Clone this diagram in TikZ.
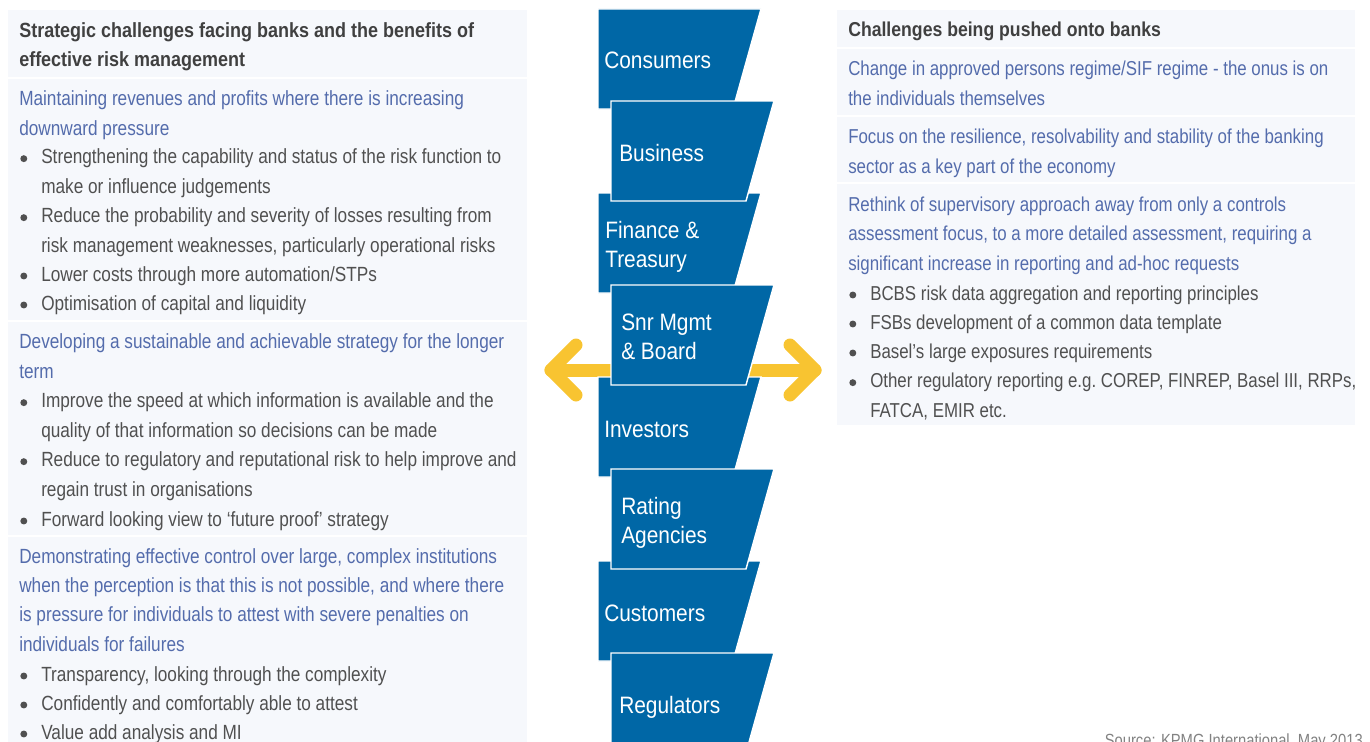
\documentclass[tikz,border=0pt]{standalone}
\usepackage{fontspec}
\setmainfont{Liberation Sans}[FakeStretch=0.838]
\newfontfamily\hdrfont{Liberation Sans}[FakeStretch=0.876]
\newfontfamily\labelfont{Liberation Sans}[FakeStretch=0.88]
\usetikzlibrary{calc}

\definecolor{kpmgblue}{RGB}{0,103,166}
\definecolor{arrowyellow}{RGB}{248,196,49}
\definecolor{panelbg}{RGB}{246,248,252}
\definecolor{topicblue}{RGB}{84,108,172}
\definecolor{pointgray}{RGB}{80,80,80}
\definecolor{hdrgray}{RGB}{64,64,64}
\definecolor{srcgray}{RGB}{130,130,130}

% bullet dot hung left of an item
\newcommand{\bul}{\llap{\tikz[baseline=-3.75pt]\fill[pointgray] (0,0) circle (2.6pt);\hspace{10.5pt}}}

\begin{document}
\begin{tikzpicture}[x=0.75pt,y=-0.75pt,
   panel/.style={fill=panelbg},
   divider/.style={draw=white,line width=1.5pt},
   party/.style={fill=kpmgblue,draw=white,line width=1.1pt},
   partylabel/.style={anchor=base west,inner sep=0pt,align=left,text=white,
      font=\labelfont\fontsize{17.8}{21.75}\selectfont},
   yarrow/.style={draw=arrowyellow,line width=9.75pt,line cap=round,line join=round},
   hdr/.style={anchor=base west,inner sep=0pt,align=left,text=hdrgray,
      font=\hdrfont\bfseries\fontsize{15.4}{22}\selectfont},
   topic/.style={anchor=base west,inner sep=0pt,align=left,text=topicblue,
      font=\fontsize{15.4}{22}\selectfont},
   point/.style={topic,text=pointgray},
   rside/.style={font=\fontsize{15.1}{22}\selectfont},
   srcnote/.style={anchor=base east,inner sep=0pt,text=srcgray,
      font=\fontsize{13.2}{16}\selectfont}]
\useasboundingbox (0,0) rectangle (1370,742);

% panels
\fill[panel] (8,10) rectangle (527,760);
\fill[panel] (837,10) rectangle (1355,425);
\foreach \y in {78,321,536} \draw[divider] (8,\y) -- (527,\y);
\foreach \y in {48,116,183} \draw[divider] (837,\y) -- (1355,\y);

% double arrow behind the stack
\coordinate (ltip) at (551,370);
\coordinate (rtip) at (815,370);
\draw[yarrow] (ltip) -- (rtip);
\draw[yarrow] ($(ltip)+(25,-25)$) -- (ltip) -- ($(ltip)+(25,25)$);
\draw[yarrow] ($(rtip)+(-25,-25)$) -- (rtip) -- ($(rtip)+(-25,25)$);

% stakeholder stack (base = last line)
\foreach \n/\x/\y/\tx/\ty/\txt in {
   cons/598/9/604/69/Consumers,
   fin/598/193/605/267/{Finance \&\\Treasury},
   inv/598/377/604/437/Investors,
   cust/598/561/604/621/Customers,
   bus/611/101/619/161/Business,
   snr/611/285/621/359/{Snr Mgmt\\\& Board},
   rate/611/469/621/543/{Rating\\Agencies},
   reg/611/653/619/713/Regulators}
{
   \path[party] (\x,\y) -- ++(163,0) -- ++(-28,100) -- ++(-135,0) -- cycle;
   \node[partylabel] (\n) at (\tx,\ty) {\txt};
}

% left panel (base = last line)
\node[hdr] (lhead) at (19,67) {Strategic challenges facing banks and the benefits of\\effective risk management};
\node[topic] (t1) at (19,135) {Maintaining revenues and profits where there is increasing\\downward pressure};
\node[point] (p1) at (41,193) {\bul Strengthening the capability and status of the risk function to\\make or influence judgements};
\node[point] (p2) at (41,252) {\bul Reduce the probability and severity of losses resulting from\\risk management weaknesses, particularly operational risks};
\node[point] (p3) at (41,281) {\bul Lower costs through more automation/STPs};
\node[point] (p4) at (41,310) {\bul Optimisation of capital and liquidity};
\node[topic] (t2) at (19,378) {Developing a sustainable and achievable strategy for the longer\\term};
\node[point] (p5) at (41,437) {\bul Improve the speed at which information is available and the\\quality of that information so decisions can be made};
\node[point] (p6) at (41,496) {\bul Reduce to regulatory and reputational risk to help improve and\\regain trust in organisations};
\node[point] (p7) at (41,526) {\bul Forward looking view to ‘future proof’ strategy};
\node[topic] (t3) at (19,651) {Demonstrating effective control over large, complex institutions\\when the perception is that this is not possible, and where there\\is pressure for individuals to attest with severe penalties on\\individuals for failures};
\node[point] (p8) at (41,681) {\bul Transparency, looking through the complexity};
\node[point] (p9) at (41,710) {\bul Confidently and comfortably able to attest};
\node[point] (p10) at (41,739) {\bul Value add analysis and MI};

% right panel
\node[hdr,font=\hdrfont\bfseries\fontsize{15.1}{22}\selectfont] (rhead) at (848,37) {Challenges being pushed onto banks};
\node[topic,rside] (r1) at (848,105) {Change in approved persons regime/SIF regime - the onus is on\\the individuals themselves};
\node[topic,rside] (r2) at (848,173) {Focus on the resilience, resolvability and stability of the banking\\sector as a key part of the economy};
\node[topic,rside] (r3) at (848,270) {Rethink of supervisory approach away from only a controls\\assessment focus, to a more detailed assessment, requiring a\\significant increase in reporting and ad-hoc requests};
\node[point,rside] (q1) at (870,300) {\bul BCBS risk data aggregation and reporting principles};
\node[point,rside] (q2) at (870,329) {\bul FSBs development of a common data template};
\node[point,rside] (q3) at (870,358) {\bul Basel’s large exposures requirements};
\node[point,rside] (q4) at (870,417) {\bul Other regulatory reporting e.g.\ COREP, FINREP, Basel III, RRPs,\\FATCA, EMIR etc.};

\node[srcnote] (src) at (1363,746) {Source: KPMG International, May 2013};
\end{tikzpicture}
\end{document}
